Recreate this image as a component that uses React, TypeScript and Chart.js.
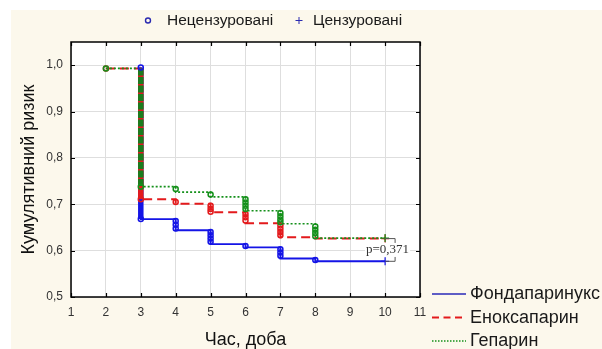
import React, { useEffect, useRef } from 'react';
import { Chart, registerables } from 'chart.js';
Chart.register(...registerables);

// ---------- data ----------
const xTicks = [1, 2, 3, 4, 5, 6, 7, 8, 9, 10, 11];
const yTicks = [0.5, 0.6, 0.7, 0.8, 0.9, 1.0];

const seriesNames = ['Фондапаринукс', 'Еноксапарин', 'Гепарин'];
const markerLegend = ['Нецензуровані', 'Цензуровані'];
const xTitle = 'Час, доба';
const yTitle = 'Кумулятивний ризик';
const pValueText = 'p=0,371';

// Kaplan–Meier step curves: time and cumulative value after that time
const fondaTimes = [3, 3, 4, 5, 6, 7, 8, 10];
const fondaValues = [0.995, 0.668, 0.644, 0.614, 0.607, 0.583, 0.577, 0.577];
const enoxTimes = [2, 3, 4, 5, 6, 7, 8, 10];
const enoxValues = [0.993, 0.711, 0.701, 0.683, 0.659, 0.629, 0.626, 0.626];
const hepTimes = [2, 3, 4, 5, 6, 7, 8, 10];
const hepValues = [0.993, 0.738, 0.726, 0.716, 0.686, 0.658, 0.627, 0.627];

// dense column of tied events on day 3 (top, bottom)
const fondaDay3 = [0.995, 0.668];
const enoxDay3 = [0.993, 0.711];
const hepDay3 = [0.993, 0.738];

// uncensored event marks
const fondaEventX = [3, 3, 4, 4, 4, 5, 5, 5, 5, 6, 7, 7, 7, 8];
const fondaEventY = [0.995, 0.668, 0.664, 0.656, 0.648, 0.640, 0.633, 0.626, 0.619, 0.610, 0.603, 0.596, 0.589, 0.580];
const enoxEventX = [2, 3, 4, 5, 5, 5, 6, 6, 6, 7, 7, 7, 7];
const enoxEventY = [0.993, 0.711, 0.705, 0.697, 0.690, 0.684, 0.679, 0.672, 0.665, 0.654, 0.647, 0.640, 0.633];
const hepEventX = [2, 3, 4, 5, 6, 6, 6, 6, 7, 7, 7, 7, 8, 8, 8, 8];
const hepEventY = [0.993, 0.738, 0.733, 0.721, 0.711, 0.704, 0.697, 0.690, 0.681, 0.674, 0.667, 0.661, 0.652, 0.645, 0.638, 0.631];

// censored marks
const fondaCensX = [10];
const fondaCensY = [0.577];
const enoxCensX = [10];
const enoxCensY = [0.626];
const hepCensX = [10];
const hepCensY = [0.627];

// ---------- style ----------
const BLUE = '#1414e6';
const RED = '#e31a1c';
const GREEN = '#14901a';
const FONT = '"Liberation Sans", Arial, sans-serif';

const pts = (xs: number[], ys: number[]) => xs.map((x, i) => ({ x, y: ys[i] }));

export default function App() {
  const ref = useRef<HTMLCanvasElement | null>(null);

  useEffect(() => {
    if (!ref.current) return;

    const decor = {
      id: 'decor',
      beforeDraw(chart: any) {
        const { ctx, chartArea: a } = chart;
        ctx.save();
        ctx.fillStyle = '#ffffff';
        ctx.fillRect(0, 0, chart.width, chart.height);
        ctx.fillStyle = '#fcf8ec';
        ctx.fillRect(11, 10, chart.width - 11, chart.height - 10);
        ctx.fillStyle = '#ffffff';
        ctx.fillRect(a.left, a.top, a.right - a.left, a.bottom - a.top);
        ctx.restore();
      },
      afterDraw(chart: any) {
        const { ctx, chartArea: a, scales } = chart;
        const xs = scales.x;
        const ys = scales.y;
        ctx.save();
        // frame
        ctx.strokeStyle = '#000';
        ctx.lineWidth = 1.5;
        ctx.strokeRect(a.left, a.top, a.right - a.left, a.bottom - a.top);
        // inner ticks
        ctx.lineWidth = 1.2;
        ctx.beginPath();
        xTicks.forEach((v) => {
          const px = Math.round(xs.getPixelForValue(v)) + 0.5;
          ctx.moveTo(px, a.top);
          ctx.lineTo(px, a.top + 4);
          ctx.moveTo(px, a.bottom);
          ctx.lineTo(px, a.bottom - 4);
        });
        yTicks.forEach((v) => {
          const py = Math.round(ys.getPixelForValue(v)) + 0.5;
          ctx.moveTo(a.left, py);
          ctx.lineTo(a.left + 4, py);
          ctx.moveTo(a.right, py);
          ctx.lineTo(a.right - 4, py);
        });
        ctx.stroke();

        // p-value bracket
        const bx = xs.getPixelForValue(fondaCensX[0]);
        const yTop = ys.getPixelForValue(enoxCensY[0]);
        const yBot = ys.getPixelForValue(fondaCensY[0]);
        ctx.strokeStyle = '#555';
        ctx.lineWidth = 1;
        ctx.beginPath();
        ctx.moveTo(bx, yTop);
        ctx.lineTo(bx + 10, yTop);
        ctx.lineTo(bx + 10, yTop + 5);
        ctx.moveTo(bx, yBot);
        ctx.lineTo(bx + 10, yBot);
        ctx.lineTo(bx + 10, yBot - 5);
        ctx.stroke();
        ctx.font = '13px "Liberation Serif", "Times New Roman", serif';
        const tw = ctx.measureText(pValueText).width;
        const cy = (yTop + yBot) / 2;
        const tx = bx + 24 - tw;
        ctx.fillStyle = '#ffffff';
        ctx.fillRect(tx - 1, cy - 7, tw + 2, 14);
        ctx.fillStyle = '#333';
        ctx.textBaseline = 'middle';
        ctx.textAlign = 'left';
        ctx.fillText(pValueText, tx, cy);

        // top marker legend
        ctx.fillStyle = '#1a1a1a';
        ctx.font = '15.5px ' + FONT;
        ctx.strokeStyle = '#2a2ab0';
        ctx.lineWidth = 1.4;
        ctx.beginPath();
        ctx.arc(148, 20.5, 2.5, 0, Math.PI * 2);
        ctx.stroke();
        ctx.fillText(markerLegend[0], 167, 21);
        ctx.lineWidth = 1;
        ctx.beginPath();
        ctx.moveTo(295.5, 20.5);
        ctx.lineTo(302.5, 20.5);
        ctx.moveTo(299, 17);
        ctx.lineTo(299, 24);
        ctx.stroke();
        ctx.fillText(markerLegend[1], 313, 21);

        // series legend
        const rows = [
          { c: '#2a2ab8', d: [] as number[], w: 1.5, y: 294 },
          { c: RED, d: [7, 4.5], w: 2, y: 317.5 },
          { c: GREEN, d: [1.5, 1.5], w: 1.5, y: 341 },
        ];
        ctx.font = '18px ' + FONT;
        rows.forEach((r, i) => {
          ctx.strokeStyle = r.c;
          ctx.lineWidth = r.w;
          ctx.setLineDash(r.d);
          ctx.beginPath();
          ctx.moveTo(432, r.y);
          ctx.lineTo(466, r.y);
          ctx.stroke();
          ctx.setLineDash([]);
          ctx.fillStyle = '#1a1a1a';
          ctx.fillText(seriesNames[i], 470, r.y + 0.5);
        });
        ctx.restore();
      },
    };

    const eventSet = (xs: number[], ys: number[], color: string) => ({
      type: 'line' as const,
      data: pts(xs, ys),
      showLine: false,
      pointStyle: 'circle',
      pointRadius: 2.5,
      pointBorderWidth: 1.5,
      pointBorderColor: color,
      pointBackgroundColor: 'rgba(255,255,255,0)',
    });
    const censSet = (xs: number[], ys: number[], color: string) => ({
      type: 'line' as const,
      data: pts(xs, ys),
      showLine: false,
      pointStyle: 'cross',
      pointRadius: 4,
      pointBorderWidth: 1.2,
      pointBorderColor: color,
    });
    const columnSet = (v: number[], color: string, dash: number[]) => ({
      type: 'line' as const,
      data: [{ x: 3, y: v[0] }, { x: 3, y: v[1] }],
      borderColor: color,
      borderWidth: 5.5,
      borderDash: dash,
      pointRadius: 0,
    });
    const stepSet = (xs: number[], ys: number[], color: string, dash: number[], w: number) => ({
      type: 'line' as const,
      data: pts(xs, ys),
      stepped: true,
      borderColor: color,
      borderWidth: w,
      borderDash: dash,
      pointRadius: 0,
      fill: false,
    });

    const chart = new Chart(ref.current, {
      type: 'line',
      data: {
        datasets: [
          eventSet(fondaEventX, fondaEventY, BLUE),
          eventSet(hepEventX, hepEventY, GREEN),
          eventSet(enoxEventX, enoxEventY, RED),
          censSet(fondaCensX, fondaCensY, BLUE),
          censSet(hepCensX, hepCensY, GREEN),
          censSet(enoxCensX, enoxCensY, RED),
          columnSet(hepDay3, '#1a7d1e', [7, 1.5]),
          columnSet(enoxDay3, RED, []),
          columnSet(fondaDay3, BLUE, []),
          stepSet(hepTimes, hepValues, GREEN, [2, 2], 1.7),
          stepSet(enoxTimes, enoxValues, RED, [9, 5], 2),
          stepSet(fondaTimes, fondaValues, BLUE, [], 1.9),
        ] as any,
      },
      options: {
        responsive: false,
        animation: false,
        events: [],
        layout: { padding: { top: 42, right: 182, left: 0, bottom: 0 } },
        plugins: { legend: { display: false }, tooltip: { enabled: false } },
        scales: {
          x: {
            type: 'linear',
            min: 1,
            max: 11,
            afterBuildTicks: (s: any) => {
              s.ticks = xTicks.map((v) => ({ value: v }));
            },
            afterFit: (s: any) => {
              s.height = 52;
            },
            ticks: {
              autoSkip: false,
              maxRotation: 0,
              padding: 8,
              color: '#333',
              font: { family: FONT, size: 12 },
              callback: (v: any) => String(v),
            },
            grid: { color: '#dedede', lineWidth: 1, drawTicks: false },
            border: { display: false },
            title: {
              display: true,
              text: xTitle,
              color: '#111',
              font: { family: FONT, size: 18, lineHeight: 1 },
              padding: { top: 0, bottom: 0 },
            },
          },
          y: {
            type: 'linear',
            min: 0.5,
            max: 1.05,
            afterBuildTicks: (s: any) => {
              s.ticks = yTicks.map((v) => ({ value: v }));
            },
            afterFit: (s: any) => {
              s.width = 71;
            },
            ticks: {
              autoSkip: false,
              padding: 8,
              color: '#333',
              font: { family: FONT, size: 12 },
              callback: (v: any) => Number(v).toFixed(1).replace('.', ','),
            },
            grid: { color: '#dedede', lineWidth: 1, drawTicks: false },
            border: { display: false },
            title: {
              display: true,
              text: yTitle,
              color: '#111',
              font: { family: FONT, size: 18, lineHeight: 1 },
              padding: { top: 20, bottom: 0 },
            },
          },
        },
      },
      plugins: [decor],
    } as any);

    return () => chart.destroy();
  }, []);

  return (
    <div style={{ position: 'fixed', left: 0, top: 0, width: 602, height: 349 }}>
      <canvas ref={ref} width={602} height={349} style={{ display: 'block' }} />
    </div>
  );
}
